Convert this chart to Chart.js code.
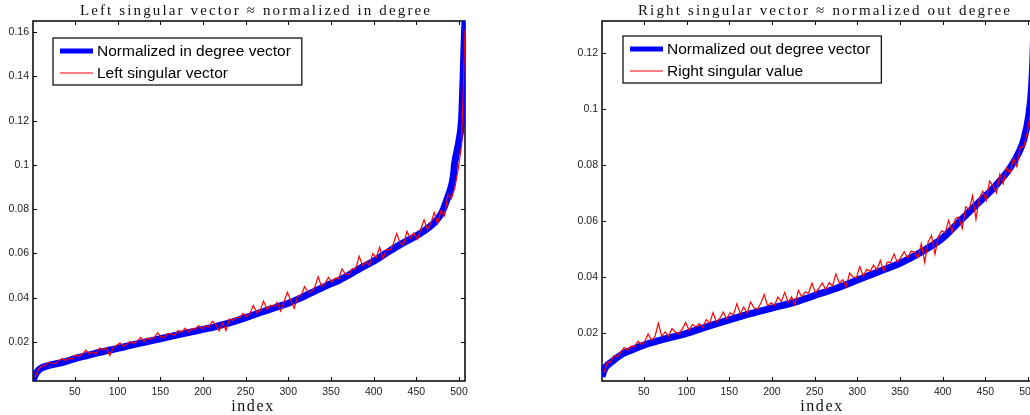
<!DOCTYPE html>
<html>
<head>
<meta charset="utf-8">
<script src="https://cdn.jsdelivr.net/npm/chart.js@4/dist/chart.umd.min.js"></script>
<style>
  html, body { margin: 0; padding: 0; background: #fff; overflow: hidden; width: 1030px; height: 415px; }
  canvas { position: absolute; top: 0; }
  #leftChart { left: 0; }
  #rightChart { left: 570px; }
</style>
</head>
<body>
<canvas id="leftChart" width="512" height="415"></canvas>
<canvas id="rightChart" width="510" height="415"></canvas>
<script>
// ---- data ----
// normalized in-degree (sorted), sampled at these indices
const IN_DEG_IDX = [1, 3, 5, 8, 12, 20, 30, 40, 50, 60, 75, 90, 100, 115, 130, 150, 165, 180, 200, 215, 230, 250, 265, 280, 300, 315, 330, 345, 360, 372, 385, 400, 415, 431, 450, 470, 480, 486, 490, 493, 495, 500, 503, 505, 506, 507];
const IN_DEG_VAL = [0.0025, 0.0045, 0.006, 0.0075, 0.0085, 0.0095, 0.0103, 0.0113, 0.0125, 0.0135, 0.015, 0.0163, 0.0171, 0.0185, 0.0198, 0.0215, 0.0228, 0.024, 0.0257, 0.027, 0.0285, 0.031, 0.033, 0.035, 0.0375, 0.04, 0.0428, 0.0455, 0.048, 0.0505, 0.0535, 0.0565, 0.0602, 0.064, 0.068, 0.0735, 0.0785, 0.0845, 0.089, 0.094, 0.101, 0.111, 0.121, 0.142, 0.155, 0.165];

// normalized out-degree (sorted)
const OUT_DEG_IDX = [1, 3, 6, 11, 18, 26, 35, 50, 75, 100, 125, 150, 175, 200, 231, 250, 275, 300, 325, 350, 375, 400, 420, 440, 460, 479, 490, 495, 501, 504, 506, 507];
const OUT_DEG_VAL = [0.0045, 0.0065, 0.0082, 0.0095, 0.0112, 0.0128, 0.014, 0.0158, 0.018, 0.02, 0.0225, 0.0248, 0.027, 0.029, 0.0315, 0.0335, 0.036, 0.039, 0.042, 0.045, 0.049, 0.054, 0.06, 0.066, 0.072, 0.079, 0.085, 0.089, 0.098, 0.107, 0.12, 0.131];

// singular vectors, read every 4th index starting at 3
const SV_FIRST = 3;
const SV_STEP = 4;
const LEFT_SV = [
  0.0040, 0.0074, 0.0091, 0.0092, 0.0108, 0.0103, 0.0102, 0.0115, 0.0126, 0.0116,
  0.0126, 0.0123, 0.0142, 0.0137, 0.0146, 0.0163, 0.0146, 0.0155, 0.0147, 0.0173,
  0.0165, 0.0173, 0.0139, 0.0173, 0.0185, 0.0196, 0.0181, 0.0190, 0.0202, 0.0193,
  0.0204, 0.0221, 0.0203, 0.0217, 0.0214, 0.0220, 0.0242, 0.0222, 0.0222, 0.0239,
  0.0236, 0.0232, 0.0252, 0.0243, 0.0263, 0.0247, 0.0259, 0.0258, 0.0274, 0.0260,
  0.0274, 0.0268, 0.0293, 0.0281, 0.0250, 0.0286, 0.0252, 0.0304, 0.0298, 0.0310,
  0.0310, 0.0329, 0.0315, 0.0329, 0.0365, 0.0333, 0.0343, 0.0385, 0.0348, 0.0365,
  0.0362, 0.0379, 0.0340, 0.0382, 0.0425, 0.0387, 0.0353, 0.0408, 0.0409, 0.0450,
  0.0426, 0.0426, 0.0448, 0.0495, 0.0450, 0.0465, 0.0492, 0.0470, 0.0489, 0.0487,
  0.0530, 0.0506, 0.0506, 0.0532, 0.0531, 0.0588, 0.0545, 0.0562, 0.0547, 0.0600,
  0.0581, 0.0628, 0.0578, 0.0618, 0.0616, 0.0643, 0.0690, 0.0648, 0.0638, 0.0700,
  0.0669, 0.0693, 0.0663, 0.0708, 0.0752, 0.0708, 0.0737, 0.0785, 0.0735, 0.0794,
  0.0770, 0.0867, 0.0847, 0.0895, 0.0980, 0.1090, 0.1610
];
const RIGHT_SV = [
  0.0059, 0.0095, 0.0099, 0.0121, 0.0117, 0.0134, 0.0149, 0.0140, 0.0154, 0.0153,
  0.0172, 0.0160, 0.0170, 0.0198, 0.0175, 0.0188, 0.0236, 0.0189, 0.0205, 0.0190,
  0.0217, 0.0204, 0.0198, 0.0215, 0.0239, 0.0211, 0.0232, 0.0223, 0.0235, 0.0221,
  0.0249, 0.0236, 0.0274, 0.0241, 0.0253, 0.0276, 0.0252, 0.0273, 0.0266, 0.0306,
  0.0269, 0.0294, 0.0272, 0.0312, 0.0291, 0.0285, 0.0307, 0.0338, 0.0298, 0.0309,
  0.0300, 0.0329, 0.0314, 0.0346, 0.0311, 0.0330, 0.0302, 0.0353, 0.0330, 0.0348,
  0.0344, 0.0379, 0.0345, 0.0360, 0.0380, 0.0356, 0.0381, 0.0369, 0.0412, 0.0379,
  0.0391, 0.0366, 0.0415, 0.0401, 0.0399, 0.0438, 0.0404, 0.0428, 0.0421, 0.0443,
  0.0427, 0.0460, 0.0421, 0.0454, 0.0452, 0.0483, 0.0454, 0.0471, 0.0491, 0.0469,
  0.0494, 0.0489, 0.0469, 0.0520, 0.0453, 0.0526, 0.0549, 0.0482, 0.0546, 0.0566,
  0.0559, 0.0603, 0.0561, 0.0610, 0.0615, 0.0574, 0.0651, 0.0641, 0.0690, 0.0607,
  0.0683, 0.0707, 0.0673, 0.0743, 0.0726, 0.0701, 0.0768, 0.0733, 0.0790, 0.0772,
  0.0824, 0.0794, 0.0864, 0.0865, 0.0915, 0.0985, 0.1270
];

const X_RANGE = [1, 507];
const LEFT_Y_RANGE = [0.0024, 0.165];
const RIGHT_Y_RANGE = [0.003, 0.1314];
const X_TICK_STEP = 50;
const Y_TICK_STEP = 0.02;

const BLUE = '#0000ff';
const RED = '#ff0000';
const SANS = "'Liberation Sans', Arial, sans-serif";
const SERIF = "'Liberation Serif', serif";

function toPoints(idx, vals) {
  return vals.map((v, i) => ({ x: idx[i], y: v }));
}

function svPoints(vals) {
  return vals.map((v, i) => ({ x: SV_FIRST + SV_STEP * i, y: v }));
}

// MATLAB-like box with inward ticks on all four sides
const boxAxes = {
  id: 'boxAxes',
  beforeDatasetsDraw(chart) {
    const { ctx, chartArea: a, scales: { x, y } } = chart;
    ctx.save();
    ctx.strokeStyle = '#000';
    ctx.lineWidth = 1;
    ctx.beginPath();
    x.ticks.forEach(t => {
      const px = Math.round(x.getPixelForValue(t.value)) + 0.5;
      ctx.moveTo(px, a.bottom); ctx.lineTo(px, a.bottom - 4);
      ctx.moveTo(px, a.top); ctx.lineTo(px, a.top + 4);
    });
    y.ticks.forEach(t => {
      const py = Math.round(y.getPixelForValue(t.value)) + 0.5;
      ctx.moveTo(a.left, py); ctx.lineTo(a.left + 4, py);
      ctx.moveTo(a.right, py); ctx.lineTo(a.right - 4, py);
    });
    ctx.stroke();
    ctx.lineWidth = 1.5;
    ctx.strokeRect(a.left, a.top, a.right - a.left, a.bottom - a.top);
    ctx.restore();
  }
};

// title and x label in a spaced serif, like the LaTeX text of the original
const axisText = {
  id: 'axisText',
  afterDraw(chart, args, opts) {
    const { ctx, chartArea: a } = chart;
    const cx = (a.left + a.right) / 2;
    ctx.save();
    ctx.fillStyle = '#111';
    ctx.textAlign = 'center';
    ctx.textBaseline = 'alphabetic';
    ctx.font = '15px ' + SERIF;
    const w = ctx.measureText(opts.title).width;
    ctx.letterSpacing = ((opts.titleWidth - w) / (opts.title.length - 1)).toFixed(2) + 'px';
    ctx.fillText(opts.title, cx + 7, 15);
    ctx.font = '16px ' + SERIF;
    ctx.letterSpacing = '1.6px';
    ctx.fillText(opts.xLabel, cx + 4, 411);
    ctx.restore();
  }
};

// boxed legend in the upper left of the axes
const boxLegend = {
  id: 'boxLegend',
  afterDraw(chart, args, opts) {
    const { ctx, chartArea: a } = chart;
    const x0 = a.left + opts.dx, y0 = a.top + opts.dy;
    ctx.save();
    ctx.font = '15.5px ' + SANS;
    const textW = Math.max(...opts.items.map(it => ctx.measureText(it.text).width));
    const w = 44 + textW + 11, h = 47;
    ctx.fillStyle = '#fff';
    ctx.fillRect(x0, y0, w, h);
    ctx.strokeStyle = '#000';
    ctx.lineWidth = 1.2;
    ctx.strokeRect(x0, y0, w, h);
    opts.items.forEach((it, i) => {
      const ry = y0 + 13 + i * 22;
      ctx.strokeStyle = it.color;
      ctx.lineWidth = it.width;
      ctx.beginPath();
      ctx.moveTo(x0 + 7, ry); ctx.lineTo(x0 + 40, ry);
      ctx.stroke();
      ctx.fillStyle = '#000';
      ctx.textBaseline = 'middle';
      ctx.fillText(it.text, x0 + 44, ry + 1);
    });
    ctx.restore();
  }
};

function makeChart(canvasId, cfg) {
  return new Chart(document.getElementById(canvasId), {
    type: 'line',
    data: {
      datasets: [
        {
          label: cfg.degLabel,
          data: cfg.degPoints,
          borderColor: BLUE,
          borderWidth: 7,
          pointRadius: 0,
          cubicInterpolationMode: 'monotone',
          clip: 0,
          order: 2
        },
        {
          label: cfg.svLabel,
          data: cfg.svPoints,
          borderColor: RED,
          borderWidth: 1.2,
          pointRadius: 0,
          tension: 0,
          clip: 0,
          order: 1
        }
      ]
    },
    options: {
      responsive: false,
      animation: false,
      devicePixelRatio: 1,
      parsing: false,
      layout: { padding: { left: 0, right: cfg.padRight, top: 21, bottom: 0 } },
      plugins: {
        legend: { display: false },
        tooltip: { enabled: false },
        axisText: { title: cfg.title, titleWidth: cfg.titleWidth, xLabel: 'index' },
        boxLegend: {
          dx: cfg.legendDx,
          dy: cfg.legendDy,
          items: [
            { text: cfg.degLabel, color: BLUE, width: 5 },
            { text: cfg.svLabel, color: RED, width: 1.2 }
          ]
        }
      },
      scales: {
        x: {
          type: 'linear',
          min: X_RANGE[0],
          max: X_RANGE[1],
          grid: { display: false, drawTicks: false },
          border: { display: false },
          ticks: {
            stepSize: X_TICK_STEP,
            includeBounds: false,
            maxRotation: 0,
            padding: 5,
            color: '#222',
            font: { family: SANS, size: 10.5 }
          },
          afterFit: s => { s.height = 34; }
        },
        y: {
          type: 'linear',
          min: cfg.yRange[0],
          max: cfg.yRange[1],
          grid: { display: false, drawTicks: false },
          border: { display: false },
          ticks: {
            stepSize: Y_TICK_STEP,
            includeBounds: false,
            padding: 4,
            color: '#222',
            font: { family: SANS, size: 10.5 },
            callback: v => String(+v.toFixed(2))
          },
          afterFit: s => { s.width = cfg.yAxisWidth; }
        }
      }
    },
    plugins: [boxAxes, axisText, boxLegend]
  });
}

makeChart('leftChart', {
  title: 'Left singular vector \u2248 normalized in degree',
  titleWidth: 350,
  degLabel: 'Normalized in degree vector',
  svLabel: 'Left singular vector',
  degPoints: toPoints(IN_DEG_IDX, IN_DEG_VAL),
  svPoints: svPoints(LEFT_SV),
  yRange: LEFT_Y_RANGE,
  yAxisWidth: 33,
  padRight: 47,
  legendDx: 20,
  legendDy: 17
});

makeChart('rightChart', {
  title: 'Right singular vector \u2248 normalized out degree',
  titleWidth: 372,
  degLabel: 'Normalized out degree vector',
  svLabel: 'Right singular value',
  degPoints: toPoints(OUT_DEG_IDX, OUT_DEG_VAL),
  svPoints: svPoints(RIGHT_SV),
  yRange: RIGHT_Y_RANGE,
  yAxisWidth: 32,
  padRight: 46,
  legendDx: 21,
  legendDy: 15
});
</script>
</body>
</html>
